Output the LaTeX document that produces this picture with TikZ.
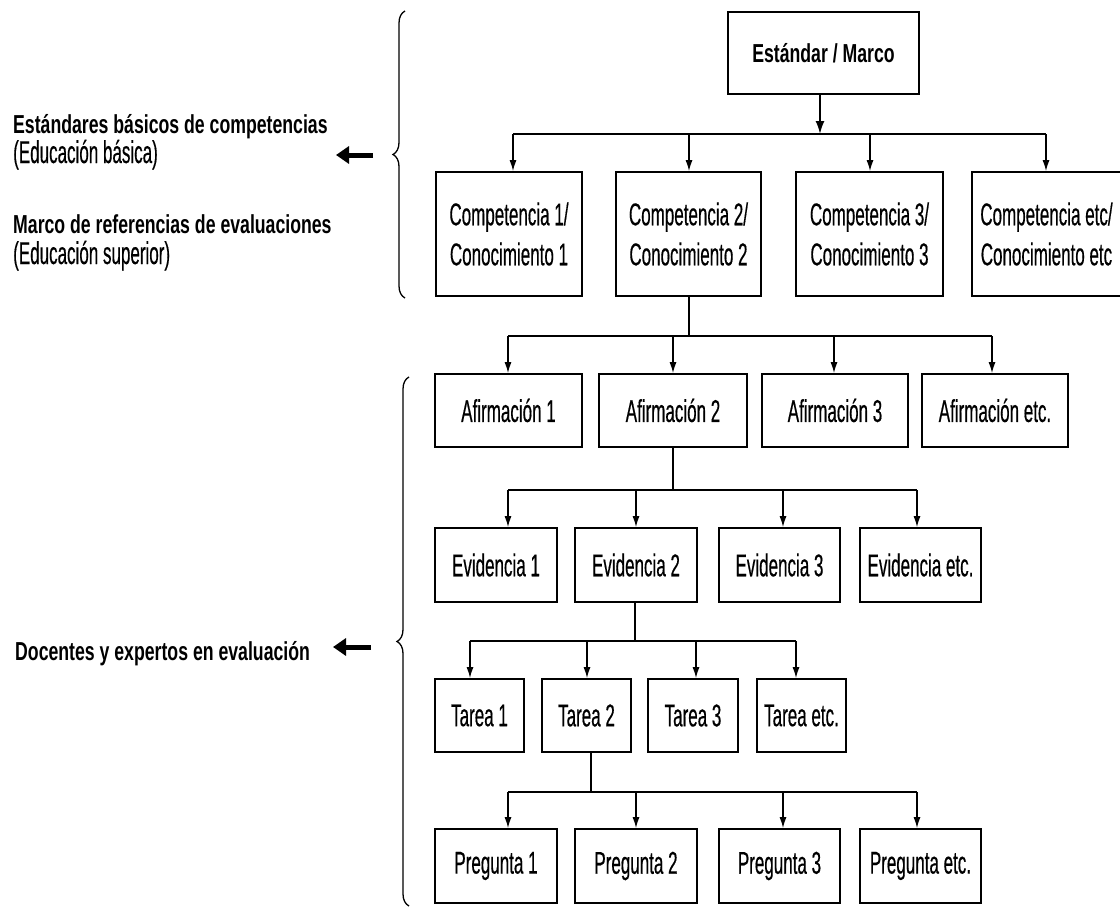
\documentclass[tikz,border=0pt]{standalone}
\usepackage{fontspec}
\setmainfont{Liberation Sans}[FakeStretch=0.54,FakeBold=0.4]
\newfontfamily\headfont{Liberation Sans}[FakeStretch=0.68]
\usetikzlibrary{arrows.meta,decorations.pathreplacing}
\tikzset{
  box/.style={draw, line width=1.8pt, rectangle, inner sep=0pt, align=center,
    font=\fontsize{31.5}{40}\selectfont},
  bx/.style 2 args={box, minimum width=#1pt, minimum height=#2pt},
  headtxt/.style={inner sep=0pt, font=\headfont\bfseries\fontsize{26}{30}\selectfont},
  regtxt/.style={inner sep=0pt, font=\fontsize{31.5}{40}\selectfont},
  bus/.style={line width=2.6pt},
  stem/.style={line width=1.3pt},
  arr/.style={line width=1.3pt, -{Latex[length=11pt,width=7pt]}},
  toparr/.style={line width=1.8pt, -{Latex[length=13pt,width=9pt]}},
  fat/.style={line width=5pt, -{Triangle[length=13pt,width=17pt]}},
  brc/.style={line width=1.3pt, decorate, decoration={brace, amplitude=12pt}}
}
\begin{document}
\begin{tikzpicture}[x=1pt,y=-1pt]
\useasboundingbox (0,0) rectangle (1120,907);

% left labels
\node[headtxt, anchor=base west] (l1) at (13,133) {Estándares básicos de competencias};
\node[regtxt, anchor=base west] (l2) at (13,163) {(Educación básica)};
\node[headtxt, anchor=base west] (l3) at (13,233) {Marco de referencias de evaluaciones};
\node[regtxt, anchor=base west] (l4) at (13,264) {(Educación superior)};
\node[headtxt, anchor=base west] (l5) at (15,660) {Docentes y expertos en evaluación};

% fat arrows
\coordinate (fa1) at (373,155); \coordinate (fb1) at (336,155);
\coordinate (fa2) at (371,647); \coordinate (fb2) at (333,647);
\draw[fat] (fa1) -- (fb1);
\draw[fat] (fa2) -- (fb2);

% braces
\coordinate (ba1) at (405,298); \coordinate (bb1) at (405,11);
\coordinate (ba2) at (409,906); \coordinate (bb2) at (409,377);
\draw[brc] (ba1) -- (bb1);
\draw[brc] (ba2) -- (bb2);

% level 0
\node[bx={191}{82}, headtxt, draw, line width=1.8pt] (top) at (823.5,53) {Estándar / Marco};

% level 1
\node[bx={146}{124}] (c1) at (509,234) {Competencia 1/\\Conocimiento 1};
\node[bx={145}{124}] (c2) at (688.5,234) {Competencia 2/\\Conocimiento 2};
\node[bx={147}{124}] (c3) at (869.5,234) {Competencia 3/\\Conocimiento 3};
\node[bx={149}{124}] (c4) at (1046.5,234) {Competencia etc/\\Conocimiento etc};

% level 2
\node[bx={147}{73}] (a1) at (508.5,410.5) {Afirmación 1};
\node[bx={148}{73}] (a2) at (673,410.5) {Afirmación 2};
\node[bx={146}{73}] (a3) at (835,410.5) {Afirmación 3};
\node[bx={146}{73}] (a4) at (995,410.5) {Afirmación etc.};

% level 3
\node[bx={122}{74}] (e1) at (496,565) {Evidencia 1};
\node[bx={122}{74}] (e2) at (636,565) {Evidencia 2};
\node[bx={121}{74}] (e3) at (779.5,565) {Evidencia 3};
\node[bx={121}{74}] (e4) at (920.5,565) {Evidencia etc.};

% level 4
\node[bx={89}{73}] (t1) at (479.5,715.5) {Tarea 1};
\node[bx={89}{73}] (t2) at (586.5,715.5) {Tarea 2};
\node[bx={90}{73}] (t3) at (693,715.5) {Tarea 3};
\node[bx={89}{73}] (t4) at (801.5,715.5) {Tarea etc.};

% level 5
\node[bx={122}{74}] (p1) at (496,866) {Pregunta 1};
\node[bx={122}{74}] (p2) at (636,866) {Pregunta 2};
\node[bx={121}{74}] (p3) at (779.5,866) {Pregunta 3};
\node[bx={121}{74}] (p4) at (920.5,866) {Pregunta etc.};

% bus 1
\coordinate (L1p) at (820,134);
\coordinate (L1a) at (513,134); \coordinate (L1b) at (689,134);
\coordinate (L1c) at (870,134); \coordinate (L1d) at (1046,134);
\draw[bus] (L1a) -- (L1d);
\draw[toparr] (top.south -| L1p) -- (L1p);
\draw[arr] (L1a) -- (L1a |- c1.north);
\draw[arr] (L1b) -- (L1b |- c2.north);
\draw[arr] (L1c) -- (L1c |- c3.north);
\draw[arr] (L1d) -- (L1d |- c4.north);

% bus 2
\coordinate (L2p) at (689,336);
\coordinate (L2a) at (508,336); \coordinate (L2b) at (673,336);
\coordinate (L2c) at (834,336); \coordinate (L2d) at (992,336);
\draw[bus] (L2a) -- (L2d);
\draw[stem] (c2.south -| L2p) -- (L2p);
\draw[arr] (L2a) -- (L2a |- a1.north);
\draw[arr] (L2b) -- (L2b |- a2.north);
\draw[arr] (L2c) -- (L2c |- a3.north);
\draw[arr] (L2d) -- (L2d |- a4.north);

% bus 3
\coordinate (L3p) at (673,490);
\coordinate (L3a) at (508,490); \coordinate (L3b) at (636,490);
\coordinate (L3c) at (783,490); \coordinate (L3d) at (917,490);
\draw[bus] (L3a) -- (L3d);
\draw[stem] (a2.south -| L3p) -- (L3p);
\draw[arr] (L3a) -- (L3a |- e1.north);
\draw[arr] (L3b) -- (L3b |- e2.north);
\draw[arr] (L3c) -- (L3c |- e3.north);
\draw[arr] (L3d) -- (L3d |- e4.north);

% bus 4
\coordinate (L4p) at (635,641);
\coordinate (L4a) at (470,641); \coordinate (L4b) at (587,641);
\coordinate (L4c) at (696,641); \coordinate (L4d) at (796,641);
\draw[bus] (L4a) -- (L4d);
\draw[stem] (e2.south -| L4p) -- (L4p);
\draw[arr] (L4a) -- (L4a |- t1.north);
\draw[arr] (L4b) -- (L4b |- t2.north);
\draw[arr] (L4c) -- (L4c |- t3.north);
\draw[arr] (L4d) -- (L4d |- t4.north);

% bus 5
\coordinate (L5p) at (591,792);
\coordinate (L5a) at (508,792); \coordinate (L5b) at (636,792);
\coordinate (L5c) at (783,792); \coordinate (L5d) at (917,792);
\draw[bus] (L5a) -- (L5d);
\draw[stem] (t2.south -| L5p) -- (L5p);
\draw[arr] (L5a) -- (L5a |- p1.north);
\draw[arr] (L5b) -- (L5b |- p2.north);
\draw[arr] (L5c) -- (L5c |- p3.north);
\draw[arr] (L5d) -- (L5d |- p4.north);
\end{tikzpicture}
\end{document}
